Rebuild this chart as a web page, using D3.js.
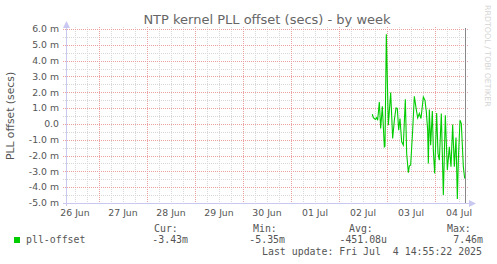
<!DOCTYPE html>
<html>
<head>
<meta charset="utf-8">
<script src="https://cdn.jsdelivr.net/npm/d3@7"></script>
<style>
  body { margin: 0; background: #fff; }
  svg { display: block; }
  text { font-family: "DejaVu Sans", sans-serif; fill: #555; }
  .mono { font-family: "DejaVu Sans Mono", monospace; white-space: pre; }
</style>
</head>
<body>
<div id="chart"></div>
<script>
// samples (values in milliseconds)
const sampleTimes = [
  "2025-07-02T16:40", "2025-07-02T17:10", "2025-07-02T18:10", "2025-07-02T18:50", "2025-07-02T19:20",
  "2025-07-02T20:10", "2025-07-02T20:50", "2025-07-02T21:40", "2025-07-02T22:40", "2025-07-02T23:00",
  "2025-07-02T23:40", "2025-07-03T00:40", "2025-07-03T01:50", "2025-07-03T02:50", "2025-07-03T03:40",
  "2025-07-03T04:30", "2025-07-03T05:10", "2025-07-03T05:50", "2025-07-03T06:30", "2025-07-03T07:20",
  "2025-07-03T08:10", "2025-07-03T09:10", "2025-07-03T09:50", "2025-07-03T10:40", "2025-07-03T11:10",
  "2025-07-03T11:50", "2025-07-03T12:50", "2025-07-03T13:40", "2025-07-03T14:30", "2025-07-03T15:20",
  "2025-07-03T16:10", "2025-07-03T17:00", "2025-07-03T18:10", "2025-07-03T19:00", "2025-07-03T19:40",
  "2025-07-03T20:20", "2025-07-03T20:40", "2025-07-03T21:10", "2025-07-03T21:50", "2025-07-03T22:40",
  "2025-07-03T23:10", "2025-07-03T23:50", "2025-07-04T00:50", "2025-07-04T01:30", "2025-07-04T02:10",
  "2025-07-04T03:10", "2025-07-04T04:10", "2025-07-04T05:10", "2025-07-04T06:10", "2025-07-04T07:10",
  "2025-07-04T08:00", "2025-07-04T08:50", "2025-07-04T09:40", "2025-07-04T10:30", "2025-07-04T11:10",
  "2025-07-04T11:40", "2025-07-04T12:30", "2025-07-04T13:10", "2025-07-04T14:10", "2025-07-04T14:50"
];
const pllOffset = [
  0.61, 0.40, 0.28, 0.40, 0.23,
  1.39, -0.29, 1.12, -1.45, -1.40,
  5.66, -0.08, 1.98, -0.92, 0.23,
  1.01, 0.98, -0.40, 0.34, -1.13,
  -1.34, 1.56, -1.87, -3.09, -2.67,
  -2.60, -0.40, 1.75, 1.03, 0.38,
  0.66, 0.34, 1.70, 1.49, 0.76,
  -0.40, -2.50, 0.91, -1.34, 0.82,
  -1.66, -3.13, 0.69, -1.87, -2.29,
  0.66, -4.50, 0.55, -2.92, -1.45,
  -2.71, -0.04, -2.71, -0.86, -4.75,
  -2.29, 0.23, 0.02, -2.71, -3.45
];

const legendHeads = ["Cur:", "Min:", "Avg:", "Max:"];
const legendValues = ["-3.43m", "-5.35m", "-451.08u", "7.46m"];
const seriesName = "pll-offset";
const lastUpdate = "Last update: Fri Jul  4 14:55:22 2025";
const title = "NTP kernel PLL offset (secs) - by week";
const yTitle = "PLL offset (secs)";

const windowStart = new Date(Date.UTC(2025, 5, 26, 7, 30));
const windowEnd = new Date(windowStart.getTime() + 400 * 1800 * 1000);
const updateTime = new Date(Date.UTC(2025, 6, 4, 14, 55, 22));

const width = 497, height = 264;
const plotLeft = 66, plotRight = 466, plotTop = 29, plotBottom = 203;

const svg = d3.select("#chart").append("svg")
  .attr("width", width)
  .attr("height", height);

const x = d3.scaleUtc().domain([windowStart, windowEnd]).range([plotLeft, plotRight]);
const y = d3.scaleLinear().domain([-5, 6]).range([plotBottom, plotTop]);

const parse = d3.utcParse("%Y-%m-%dT%H:%M");
const data = sampleTimes.map((t, i) => ({ t: parse(t), v: pllOffset[i] }));

/* grid */
const grid = svg.append("g").attr("shape-rendering", "crispEdges");

const minorY = d3.range(-5, 6.01, 0.5).filter(v => v % 1 !== 0);
const majorY = d3.range(-5, 6.01, 1);

grid.selectAll("line.hmin").data(minorY).enter().append("line")
  .attr("x1", plotLeft - 3).attr("x2", plotRight + 2)
  .attr("y1", d => Math.round(y(d)) + 0.5).attr("y2", d => Math.round(y(d)) + 0.5)
  .attr("stroke", "#d8d8d8").attr("stroke-dasharray", "1,1");

const minorX = d3.utcHour.every(6).range(windowStart, windowEnd).filter(d => d.getUTCHours() !== 0);
const majorX = d3.utcDay.range(windowStart, windowEnd);

grid.selectAll("line.vmin").data(minorX).enter().append("line")
  .attr("x1", d => Math.round(x(d)) + 0.5).attr("x2", d => Math.round(x(d)) + 0.5)
  .attr("y1", plotTop - 2).attr("y2", plotBottom + 2)
  .attr("stroke", "#d8d8d8").attr("stroke-dasharray", "1,1");

grid.selectAll("line.hmaj").data(majorY).enter().append("line")
  .attr("x1", plotLeft - 3).attr("x2", plotRight + 2)
  .attr("y1", d => Math.round(y(d)) + 0.5).attr("y2", d => Math.round(y(d)) + 0.5)
  .attr("stroke", "#eaa0a0").attr("stroke-dasharray", "1,1");

grid.selectAll("line.vmaj").data(majorX).enter().append("line")
  .attr("x1", d => Math.round(x(d)) + 0.5).attr("x2", d => Math.round(x(d)) + 0.5)
  .attr("y1", plotTop - 2).attr("y2", plotBottom + 2)
  .attr("stroke", "#eaa0a0").attr("stroke-dasharray", "1,1");

/* axes */
const axisColor = "#c8c8f0";
svg.append("line")
  .attr("x1", plotLeft + 0.5).attr("x2", plotLeft + 0.5)
  .attr("y1", plotTop - 3).attr("y2", plotBottom + 3)
  .attr("stroke", axisColor);
svg.append("line")
  .attr("x1", plotLeft - 3).attr("x2", plotRight + 4)
  .attr("y1", plotBottom + 0.5).attr("y2", plotBottom + 0.5)
  .attr("stroke", axisColor);
svg.append("path")
  .attr("d", `M${plotLeft - 3},${plotTop - 1}L${plotLeft + 0.5},${plotTop - 8}L${plotLeft + 4},${plotTop - 1}Z`)
  .attr("fill", axisColor);
svg.append("path")
  .attr("d", `M${plotRight + 3},${plotBottom - 3}L${plotRight + 10},${plotBottom + 0.5}L${plotRight + 3},${plotBottom + 4}Z`)
  .attr("fill", axisColor);

/* tick labels */
svg.append("g").selectAll("text").data(majorY).enter().append("text")
  .attr("x", plotLeft - 7)
  .attr("y", d => y(d) + 3.3)
  .attr("text-anchor", "end")
  .style("font-size", "9.3px")
  .text(d => d === 0 ? "0.0" : d.toFixed(1) + " m");

const labelDays = d3.utcHour.every(12).range(windowStart, windowEnd).filter(d => d.getUTCHours() === 12);
svg.append("g").selectAll("text").data(labelDays).enter().append("text")
  .attr("x", d => x(d))
  .attr("y", plotBottom + 13)
  .attr("text-anchor", "middle")
  .style("font-size", "9.3px")
  .text(d => d3.utcFormat("%d %b")(d));

/* data line */
const line = d3.line().x(d => x(d.t)).y(d => y(d.v));
svg.append("path")
  .datum(data)
  .attr("d", line)
  .attr("fill", "none")
  .attr("stroke", "#00cc00")
  .attr("stroke-width", 1.1);

// last update marker
svg.append("line")
  .attr("x1", Math.round(x(updateTime)) + 0.5).attr("x2", Math.round(x(updateTime)) + 0.5)
  .attr("y1", plotTop - 1).attr("y2", plotBottom)
  .attr("stroke", "#888").attr("shape-rendering", "crispEdges");

/* titles */
svg.append("text")
  .attr("x", (plotLeft + plotRight) / 2 + 1)
  .attr("y", 24)
  .attr("text-anchor", "middle")
  .style("font-size", "13px")
  .style("fill", "#666")
  .text(title);

svg.append("text")
  .attr("transform", `translate(14,${(plotTop + plotBottom) / 2}) rotate(-90)`)
  .attr("text-anchor", "middle")
  .style("font-size", "10.8px")
  .text(yTitle);

svg.append("text")
  .attr("transform", "translate(485,5) rotate(90)")
  .attr("text-anchor", "start")
  .style("font-size", "7.9px")
  .style("fill", "#d4d4d4")
  .text("RRDTOOL / TOBI OETIKER");

/* legend */
svg.append("rect")
  .attr("x", 14).attr("y", 237).attr("width", 6).attr("height", 6)
  .attr("fill", "#00cc00");
svg.append("text").attr("class", "mono")
  .attr("x", 26).attr("y", 242.5)
  .style("font-size", "9.9px")
  .text(seriesName);

const headX = [154, 253, 349, 447];
const valueRight = [188, 285, 387, 483];
svg.append("g").selectAll("text").data(legendHeads).enter().append("text")
  .attr("class", "mono")
  .attr("x", (d, i) => headX[i]).attr("y", 231.5)
  .style("font-size", "9.9px")
  .text(d => d);
svg.append("g").selectAll("text").data(legendValues).enter().append("text")
  .attr("class", "mono")
  .attr("x", (d, i) => valueRight[i]).attr("y", 242.5)
  .attr("text-anchor", "end")
  .style("font-size", "9.9px")
  .text(d => d);

svg.append("text").attr("class", "mono")
  .attr("x", 482).attr("y", 254.5)
  .attr("text-anchor", "end")
  .style("font-size", "9.9px")
  .text(lastUpdate);
</script>
</body>
</html>
